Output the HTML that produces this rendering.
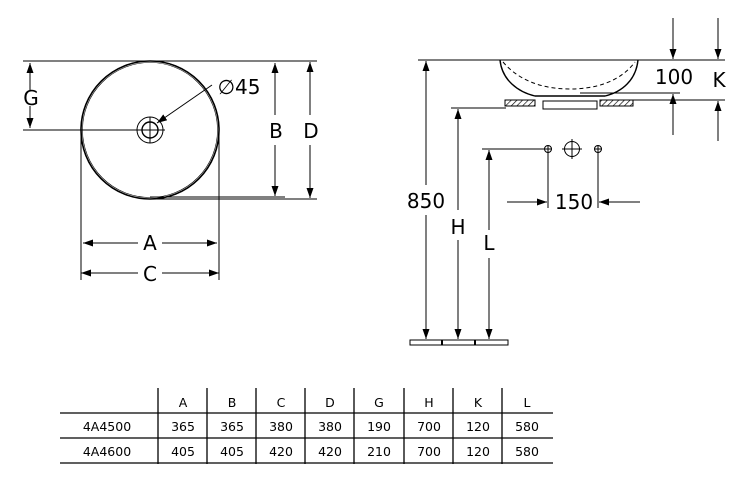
<!DOCTYPE html>
<html><head><meta charset="utf-8"><style>
body{margin:0;background:#fff}
svg{display:block}
text{font-family:"DejaVu Sans","Liberation Sans",sans-serif;fill:#000}
</style></head><body>
<svg width="750" height="497" viewBox="0 0 750 497" xmlns="http://www.w3.org/2000/svg">
<defs>
<marker id="a" viewBox="0 0 10 10" refX="10" refY="5" markerWidth="10" markerHeight="10" markerUnits="userSpaceOnUse" orient="auto"><path d="M0,1.5 L10,5 L0,8.5z" fill="#000"/></marker>
<pattern id="h" width="4" height="4" patternUnits="userSpaceOnUse" patternTransform="rotate(45)"><line x1="0" y1="0" x2="0" y2="4" stroke="#000" stroke-width="1.3"/></pattern>
</defs>
<g stroke="#000" fill="none" stroke-width="1">
<line x1="23" y1="61" x2="317" y2="61"/>
<circle cx="150" cy="130" r="69" stroke-width="1.6"/>
<circle cx="150" cy="130" r="67.5" stroke-width="0.6"/>
<line x1="23" y1="130" x2="165" y2="130"/>
<circle cx="150" cy="130" r="13"/>
<circle cx="150" cy="130" r="8" stroke-width="1.4"/>
<line x1="150" y1="117" x2="150" y2="143"/>
<line x1="144" y1="130" x2="156" y2="130"/>
<line x1="30" y1="90" x2="30" y2="63" marker-end="url(#a)"/>
<line x1="30" y1="106" x2="30" y2="128" marker-end="url(#a)"/>
<line x1="148" y1="199" x2="317" y2="199"/>
<line x1="150" y1="197" x2="285" y2="197"/>
<line x1="275" y1="115" x2="275" y2="63" marker-end="url(#a)"/>
<line x1="275" y1="145" x2="275" y2="196" marker-end="url(#a)"/>
<line x1="310" y1="115" x2="310" y2="62" marker-end="url(#a)"/>
<line x1="310" y1="145" x2="310" y2="198" marker-end="url(#a)"/>
<line x1="212" y1="85" x2="157" y2="123" marker-end="url(#a)"/>
<line x1="81" y1="130" x2="81" y2="280"/>
<line x1="219" y1="130" x2="219" y2="280"/>
<line x1="138" y1="243" x2="83" y2="243" marker-end="url(#a)"/>
<line x1="162" y1="243" x2="217" y2="243" marker-end="url(#a)"/>
<line x1="138" y1="273" x2="81" y2="273" marker-end="url(#a)"/>
<line x1="162" y1="273" x2="219" y2="273" marker-end="url(#a)"/>
<line x1="418" y1="60" x2="725" y2="60"/>
<path d="M500,60 C502,80 518,92 535,96 L605,96 C622,92 636,80 638,60" stroke-width="1.4"/>
<path d="M503,62 C520,82 545,89 570,89 C595,89 620,82 635,62" stroke-dasharray="4,3"/>
<line x1="580" y1="93" x2="680" y2="93"/>
<line x1="600" y1="100" x2="725" y2="100"/>
<rect x="505" y="100" width="30" height="6" fill="url(#h)"/>
<rect x="600" y="100" width="33" height="6" fill="url(#h)"/>
<rect x="543" y="101" width="54" height="8"/>
<line x1="451" y1="108" x2="506" y2="108"/>
<line x1="673" y1="18" x2="673" y2="59" marker-end="url(#a)"/>
<line x1="673" y1="135" x2="673" y2="94" marker-end="url(#a)"/>
<line x1="718" y1="18" x2="718" y2="59" marker-end="url(#a)"/>
<line x1="718" y1="141" x2="718" y2="101" marker-end="url(#a)"/>
<line x1="426" y1="185" x2="426" y2="61" marker-end="url(#a)"/>
<line x1="426" y1="215" x2="426" y2="339" marker-end="url(#a)"/>
<line x1="458" y1="210" x2="458" y2="109" marker-end="url(#a)"/>
<line x1="458" y1="240" x2="458" y2="339" marker-end="url(#a)"/>
<line x1="482" y1="149" x2="544" y2="149"/>
<line x1="489" y1="230" x2="489" y2="150" marker-end="url(#a)"/>
<line x1="489" y1="258" x2="489" y2="339" marker-end="url(#a)"/>
<rect x="410" y="340" width="98" height="5"/>
<line x1="442" y1="340" x2="442" y2="345" stroke-width="2"/>
<line x1="475" y1="340" x2="475" y2="345" stroke-width="2"/>
<circle cx="548" cy="149" r="3.5"/><line x1="544" y1="149" x2="552" y2="149"/><line x1="548" y1="145" x2="548" y2="153"/>
<circle cx="598" cy="149" r="3.5"/><line x1="594" y1="149" x2="602" y2="149"/><line x1="598" y1="145" x2="598" y2="153"/>
<circle cx="572" cy="149" r="7.5"/><line x1="562" y1="149" x2="582" y2="149"/><line x1="572" y1="139" x2="572" y2="159"/>
<line x1="548" y1="153" x2="548" y2="208"/>
<line x1="598" y1="153" x2="598" y2="208"/>
<line x1="507" y1="202" x2="547" y2="202" marker-end="url(#a)"/>
<line x1="640" y1="202" x2="599" y2="202" marker-end="url(#a)"/>
<g stroke-width="1.3">
<line x1="60" y1="413" x2="553" y2="413"/>
<line x1="60" y1="438" x2="553" y2="438"/>
<line x1="60" y1="463" x2="553" y2="463"/>
<line x1="158" y1="388" x2="158" y2="464"/>
<line x1="207" y1="388" x2="207" y2="464"/>
<line x1="256" y1="388" x2="256" y2="464"/>
<line x1="305" y1="388" x2="305" y2="464"/>
<line x1="354" y1="388" x2="354" y2="464"/>
<line x1="404" y1="388" x2="404" y2="464"/>
<line x1="453" y1="388" x2="453" y2="464"/>
<line x1="502" y1="388" x2="502" y2="464"/>
</g>
</g>
<g font-size="20" text-anchor="middle">
<text x="31" y="105">G</text>
<text x="276" y="138">B</text>
<text x="311" y="138">D</text>
<text x="150" y="250">A</text>
<text x="150" y="281">C</text>
<text x="239" y="94">∅45</text>
<text x="674" y="84">100</text>
<text x="719" y="87">K</text>
<text x="426" y="208">850</text>
<text x="458" y="234">H</text>
<text x="489" y="250">L</text>
<text x="574" y="209">150</text>
</g>
<g font-size="12.5" text-anchor="middle">
<text x="183" y="407">A</text><text x="232" y="407">B</text><text x="281" y="407">C</text><text x="330" y="407">D</text><text x="379" y="407">G</text><text x="429" y="407">H</text><text x="478" y="407">K</text><text x="527" y="407">L</text>
<text x="107" y="431">4A4500</text><text x="183" y="431">365</text><text x="232" y="431">365</text><text x="281" y="431">380</text><text x="330" y="431">380</text><text x="379" y="431">190</text><text x="429" y="431">700</text><text x="478" y="431">120</text><text x="527" y="431">580</text>
<text x="107" y="456">4A4600</text><text x="183" y="456">405</text><text x="232" y="456">405</text><text x="281" y="456">420</text><text x="330" y="456">420</text><text x="379" y="456">210</text><text x="429" y="456">700</text><text x="478" y="456">120</text><text x="527" y="456">580</text>
</g>
</svg>
</body></html>
